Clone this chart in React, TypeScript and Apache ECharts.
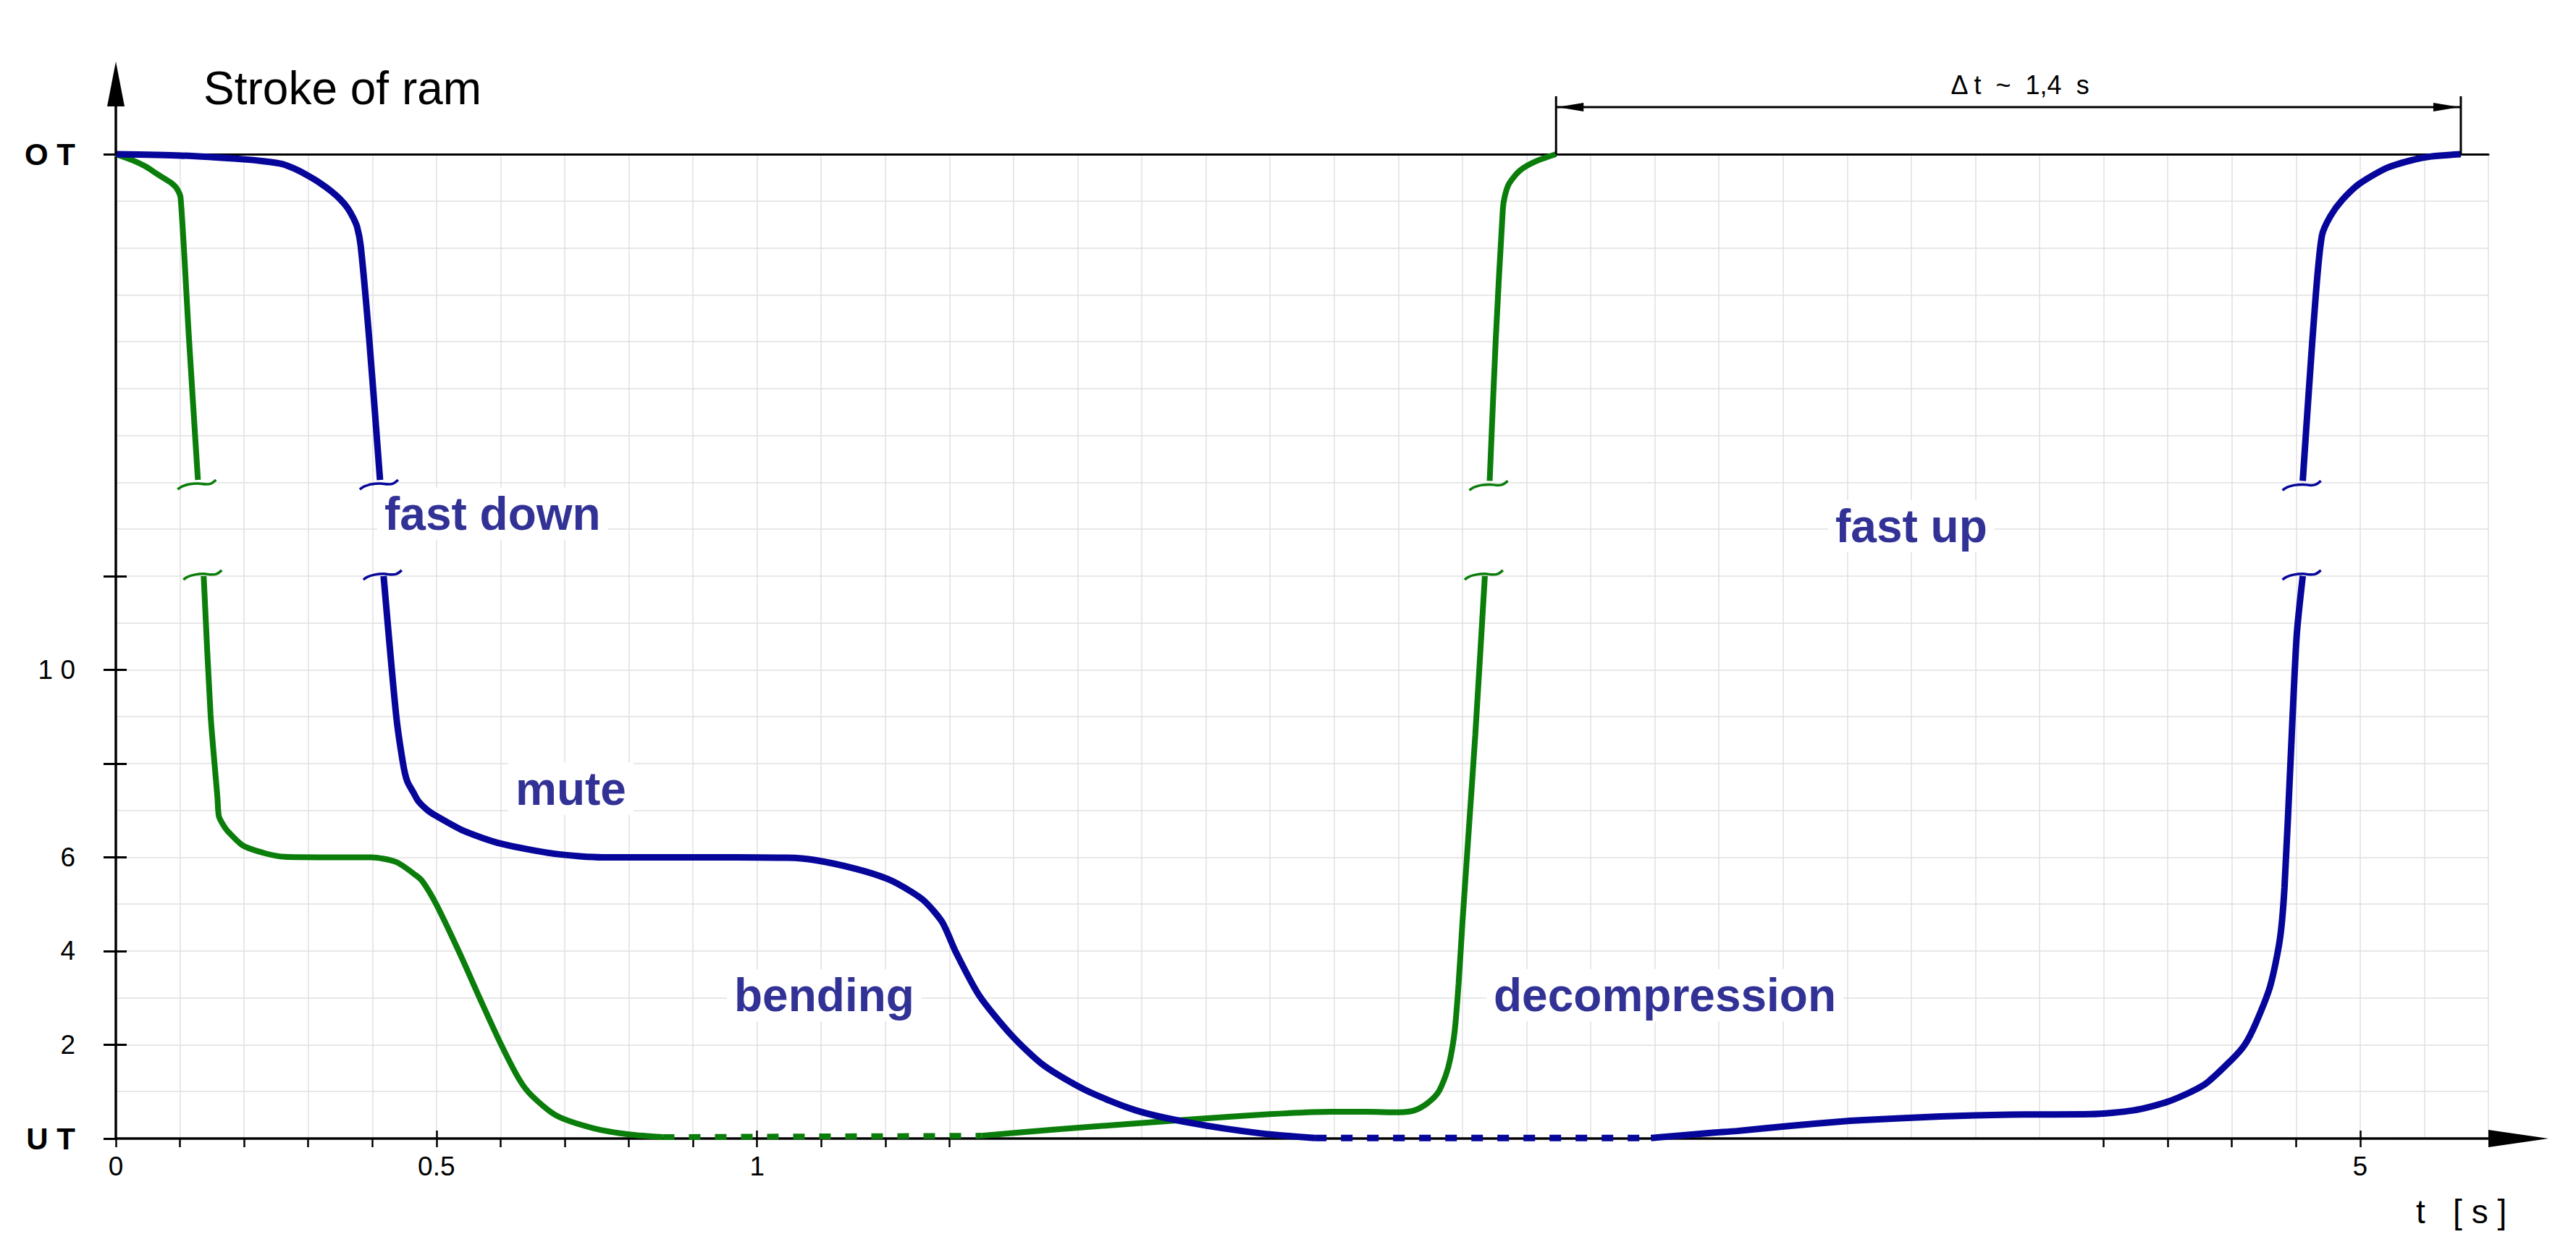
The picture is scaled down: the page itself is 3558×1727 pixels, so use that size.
import React, { useEffect, useRef } from "react";
import * as echarts from "echarts";

// ---- axis ticks / labels (visual scale: x in s of the drawn grid, y in grid units, 21 = O T) ----
const xTickMinor = [0, 0.1, 0.2, 0.3, 0.4, 0.5, 0.6, 0.7, 0.8, 0.9, 1, 1.1, 1.2, 1.3, 3.1, 3.2, 3.3, 3.4, 3.5];
const xTickMajor = [0.5, 1, 3.5];
const xLabelValues = [0, 0.5, 1, 3.5];
const xLabelTexts = ["0", "0.5", "1", "5"];
const yTickValues = [0, 2, 4, 6, 8, 10, 12, 21];
const yTickInner = [2, 4, 6, 8, 10, 12];
const yLabelValues = [0, 2, 4, 6, 10, 21];
const yLabelTexts = ["U T", "2", "4", "6", "1 0", "O T"];

// ---- green curve ----
const greenDrop: number[][] = [
  [0, 21], [0.026, 20.87], [0.046, 20.74], [0.064, 20.58], [0.078, 20.46], [0.087, 20.38],
  [0.095, 20.27], [0.101, 20.07], [0.114, 17.08], [0.128, 14.05],
];
const greenMid: number[][] = [
  [0.137, 12], [0.1477, 9.05], [0.1584, 7.28], [0.1606, 6.88], [0.167, 6.7], [0.1736, 6.57],
  [0.1984, 6.25], [0.234, 6.08], [0.264, 6.01], [0.33, 6], [0.398, 6], [0.437, 5.9],
  [0.4675, 5.62], [0.4786, 5.48], [0.5, 4.99], [0.536, 3.96], [0.568, 2.98], [0.601, 2.0],
  [0.6296, 1.25], [0.6476, 0.93], [0.687, 0.49], [0.745, 0.22], [0.8025, 0.085], [0.853, 0.03],
];
const greenDashed: number[][] = [[0.853, 0.03], [1.35, 0.06]];
const greenRiseLow: number[][] = [
  [1.35, 0.06], [1.4616, 0.19], [1.5697, 0.3], [1.6776, 0.41], [1.8, 0.52], [1.8937, 0.57],
  [1.95, 0.57], [2.0016, 0.56], [2.025, 0.6], [2.045, 0.75], [2.062, 0.98], [2.074, 1.35],
  [2.081, 1.7], [2.088, 2.3], [2.094, 3.3], [2.1, 4.6], [2.11, 6.6], [2.12, 8.6], [2.135, 12],
];
const greenRiseHigh: number[][] = [
  [2.1425, 14.03], [2.152, 17.06], [2.163, 19.82], [2.166, 20.1], [2.1727, 20.37],
  [2.1896, 20.65], [2.215, 20.85], [2.246, 21],
];

// ---- blue curve ----
const blueDrop: number[][] = [
  [0, 21], [0.1016, 20.97], [0.1994, 20.89], [0.23, 20.85], [0.2596, 20.79], [0.282, 20.67],
  [0.301, 20.53], [0.319, 20.38], [0.3349, 20.22], [0.349, 20.05], [0.361, 19.86], [0.37, 19.65],
  [0.3762, 19.45], [0.3819, 19.04], [0.395, 17.08], [0.412, 14.05],
];
const blueMid: number[][] = [
  [0.4176, 12], [0.437, 9.05], [0.4479, 8.0], [0.4545, 7.62], [0.4641, 7.38], [0.4716, 7.2],
  [0.4866, 7.0], [0.5, 6.88], [0.5432, 6.56], [0.6008, 6.29], [0.6873, 6.07], [0.759, 6.0],
  [0.9, 6.0], [1.047, 5.99], [1.09, 5.94], [1.155, 5.75], [1.205, 5.53], [1.24, 5.27],
  [1.263, 5.04], [1.289, 4.61], [1.3106, 3.96], [1.3465, 3.05], [1.397, 2.2], [1.447, 1.56],
  [1.512, 1.035], [1.591, 0.6], [1.6776, 0.33], [1.7856, 0.11], [1.87, 0.01],
];
const blueDashed: number[][] = [[1.87, 0.01], [2.394, 0.01]];
const blueRiseLow: number[][] = [
  [2.394, 0.01], [2.487, 0.12], [2.528, 0.16], [2.611, 0.27], [2.687, 0.36], [2.72, 0.39],
  [2.845, 0.47], [2.953, 0.51], [3.08, 0.52], [3.146, 0.6], [3.201, 0.79], [3.257, 1.15],
  [3.2995, 1.68], [3.32, 2.0], [3.337, 2.45], [3.3597, 3.25], [3.3747, 4.24], [3.382, 5.35],
  [3.3916, 8.1], [3.401, 10.72], [3.4105, 12],
];
const blueRiseHigh: number[][] = [
  [3.4105, 14.03], [3.42, 15.96], [3.431, 18.03], [3.4405, 19.27], [3.4537, 19.68],
  [3.4725, 20.03], [3.499, 20.37], [3.544, 20.72], [3.6, 20.93], [3.657, 21],
];

const FONT = "'Liberation Sans', Arial, Helvetica, sans-serif";
const GREEN = "#0a7d0a";
const BLUE = "#06069a";
const LABEL = "#323296";
const GRID = "#e0e0e0";

const last = (a: number[][]) => a[a.length - 1];
// break marks: [t, y, isUpper]
const greenBreaks = [
  [...last(greenDrop), 1], [...greenMid[0], 0], [...last(greenRiseLow), 0], [...greenRiseHigh[0], 1],
];
const blueBreaks = [
  [...last(blueDrop), 1], [...blueMid[0], 0], [...last(blueRiseLow), 0], [...blueRiseHigh[0], 1],
];

const TILDE = [[-28, 5], [-22, 1], [-12, -2], [0, -3], [11, -2], [18, -3], [25, -8]];

function findLabel(values: number[], texts: string[], v: number) {
  for (let i = 0; i < values.length; i++) if (Math.abs(values[i] - v) < 1e-6) return texts[i];
  return "";
}

function lineSeries(data: number[][], color: string, width: number, dashed = false) {
  return {
    type: "line",
    data,
    xAxisIndex: 0,
    yAxisIndex: 0,
    showSymbol: false,
    symbol: "none",
    smooth: dashed ? false : 0.25,
    clip: false,
    z: 3,
    lineStyle: { color, width, type: dashed ? [16, 20] : "solid", cap: "butt" },
    silent: true,
  };
}

function tildeSeries(data: number[][], color: string) {
  return {
    type: "custom",
    data,
    xAxisIndex: 0,
    yAxisIndex: 0,
    z: 4,
    clip: false,
    silent: true,
    encode: { x: 0, y: 1 },
    renderItem: (_p: any, api: any) => {
      const c = api.coord([api.value(0), api.value(1)]);
      const dy = api.value(2) ? 8 : 0;
      return {
        type: "polyline",
        shape: { points: TILDE.map(([a, b]) => [c[0] + a, c[1] + b + dy]), smooth: 0.4 },
        style: { stroke: color, lineWidth: 3.5, fill: null },
      };
    },
  };
}

const X_RANGE = { type: "value", min: 0, max: 3.7, interval: 0.1 };
const Y_RANGE = { type: "value", min: 0, max: 21, interval: 1 };
const OFF = { axisLine: { show: false, onZero: false }, axisTick: { show: false }, axisLabel: { show: false }, splitLine: { show: false } };

export default function App() {
  const ref = useRef<HTMLDivElement>(null);
  useEffect(() => {
    document.body.style.margin = "0";
    const chart = echarts.init(ref.current!, undefined, { renderer: "svg" });
    const axisBlack = { color: "#000", width: 3.5 };
    chart.setOption({
      animation: false,
      backgroundColor: "#fff",
      grid: { left: 160, right: 121, top: 213, bottom: 154 },
      xAxis: [
        { // grid + axis line
          ...X_RANGE, ...OFF, position: "bottom",
          axisLine: { show: true, onZero: false, lineStyle: axisBlack },
          splitLine: { show: true, lineStyle: { color: GRID, width: 1.5 } },
        },
        { // minor ticks + labels
          ...X_RANGE, ...OFF, position: "bottom",
          axisTick: { show: true, customValues: xTickMinor, length: 12, lineStyle: { color: "#000", width: 2.5 } },
          axisLabel: {
            show: true, customValues: xLabelValues, margin: 20, color: "#000", fontSize: 37, fontFamily: FONT,
            formatter: (v: number) => findLabel(xLabelValues, xLabelTexts, v),
          },
        },
        { // major ticks crossing above
          ...X_RANGE, ...OFF, position: "bottom",
          axisTick: { show: true, inside: true, customValues: xTickMajor, length: 11, lineStyle: { color: "#000", width: 2.5 } },
        },
        { // O T line
          ...X_RANGE, ...OFF, position: "top",
          axisLine: { show: true, onZero: false, lineStyle: { color: "#000", width: 3 } },
        },
      ],
      yAxis: [
        {
          ...Y_RANGE, ...OFF, position: "left",
          axisLine: { show: true, onZero: false, lineStyle: axisBlack },
          splitLine: { show: true, lineStyle: { color: GRID, width: 1.5 } },
        },
        {
          ...Y_RANGE, ...OFF, position: "left",
          axisTick: { show: true, customValues: yTickValues, length: 17, lineStyle: { color: "#000", width: 3 } },
          axisLabel: {
            show: true, customValues: yLabelValues, margin: 56, color: "#000",
            formatter: (v: number) => {
              const t = findLabel(yLabelValues, yLabelTexts, v);
              return t.indexOf("T") >= 0 ? `{b|${t}}` : `{n|${t}}`;
            },
            rich: {
              b: { fontSize: 42, fontWeight: "bold", fontFamily: FONT, color: "#000" },
              n: { fontSize: 37, fontFamily: FONT, color: "#000" },
            },
          },
        },
        {
          ...Y_RANGE, ...OFF, position: "left",
          axisTick: { show: true, inside: true, customValues: yTickInner, length: 15, lineStyle: { color: "#000", width: 3 } },
        },
      ],
      series: [
        lineSeries(greenDrop, GREEN, 8),
        lineSeries(greenMid, GREEN, 8),
        lineSeries(greenDashed, GREEN, 8, true),
        lineSeries(greenRiseLow, GREEN, 8),
        lineSeries(greenRiseHigh, GREEN, 8),
        lineSeries(blueDrop, BLUE, 9),
        lineSeries(blueMid, BLUE, 9),
        lineSeries(blueDashed, BLUE, 9, true),
        lineSeries(blueRiseLow, BLUE, 9),
        lineSeries(blueRiseHigh, BLUE, 9),
        tildeSeries(greenBreaks, GREEN),
        tildeSeries(blueBreaks, BLUE),
      ],
    });

    const px = (p: number[]) => chart.convertToPixel({ xAxisIndex: 0, yAxisIndex: 0 }, p) as number[];
    const origin = px([0, 0]);
    const top = px([0, 21]);
    const right = px([3.7, 0]);
    const dL = px(last(greenRiseHigh));
    const dR = px(last(blueRiseHigh));
    const dimY = top[1] - 65;
    const labelStyle = (text: string, x: number, y: number) => ({
      type: "text", z: 1,
      style: {
        text, x, y, font: `bold 64px ${FONT}`, fill: LABEL, verticalAlign: "middle",
        backgroundColor: "#fff", padding: [4, 10],
      },
    });
    chart.setOption({
      graphic: [
        // y axis extension and arrow
        { type: "line", z: 5, shape: { x1: top[0], y1: top[1], x2: top[0], y2: top[1] - 70 }, style: { stroke: "#000", lineWidth: 3.5 } },
        { type: "polygon", z: 5, shape: { points: [[top[0], top[1] - 128], [top[0] - 12, top[1] - 66], [top[0] + 12, top[1] - 66]] }, style: { fill: "#000" } },
        // x axis arrow
        { type: "polygon", z: 5, shape: { points: [[right[0] + 83, origin[1]], [right[0], origin[1] - 12], [right[0], origin[1] + 12]] }, style: { fill: "#000" } },
        // dimension Δt
        { type: "line", z: 5, shape: { x1: dL[0], y1: top[1], x2: dL[0], y2: top[1] - 80 }, style: { stroke: "#000", lineWidth: 3 } },
        { type: "line", z: 5, shape: { x1: dR[0], y1: top[1], x2: dR[0], y2: top[1] - 80 }, style: { stroke: "#000", lineWidth: 3 } },
        { type: "line", z: 5, shape: { x1: dL[0], y1: dimY, x2: dR[0], y2: dimY }, style: { stroke: "#000", lineWidth: 3 } },
        { type: "polygon", z: 5, shape: { points: [[dL[0] + 2, dimY], [dL[0] + 38, dimY - 6], [dL[0] + 38, dimY + 6]] }, style: { fill: "#000" } },
        { type: "polygon", z: 5, shape: { points: [[dR[0] - 2, dimY], [dR[0] - 38, dimY - 6], [dR[0] - 38, dimY + 6]] }, style: { fill: "#000" } },
        {
          type: "text", z: 5,
          style: { text: "Δ t  ~  1,4  s", x: (dL[0] + dR[0]) / 2 + 16, y: dimY - 31, font: `36px ${FONT}`, fill: "#000", align: "center", verticalAlign: "middle" },
        },
        // title and axis name
        { type: "text", z: 5, style: { text: "Stroke of ram", x: 281, y: 122, font: `64px ${FONT}`, fill: "#000", verticalAlign: "middle" } },
        { type: "text", z: 5, style: { text: "t   [ s ]", x: 3337, y: 1674, font: `46px ${FONT}`, fill: "#000", verticalAlign: "middle" } },
        // phase labels
        labelStyle("fast down", 521, 710),
        labelStyle("mute", 702, 1090),
        labelStyle("bending", 1004, 1375),
        labelStyle("decompression", 2053, 1375),
        labelStyle("fast up", 2525, 727),
      ],
    });
    return () => chart.dispose();
  }, []);
  return <div ref={ref} style={{ width: 3558, height: 1727 }} />;
}
